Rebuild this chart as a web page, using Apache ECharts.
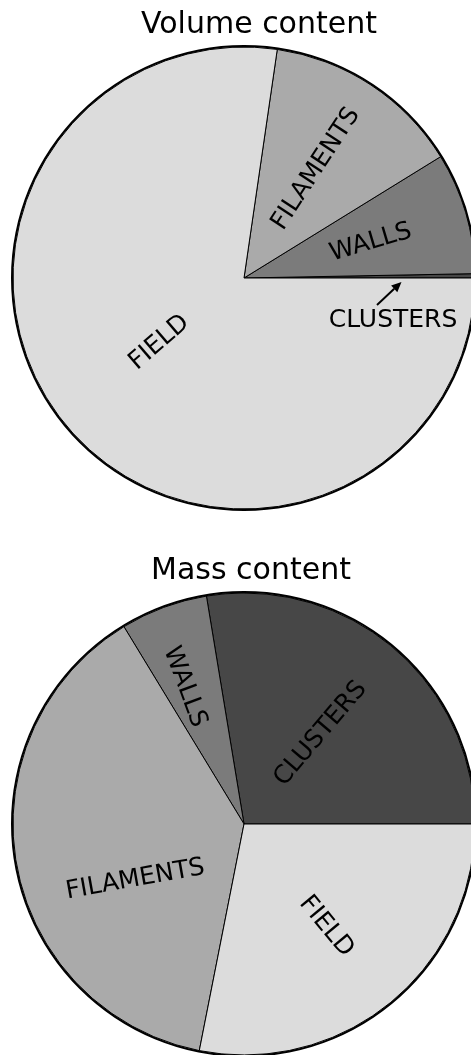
<!DOCTYPE html>
<html>
<head>
<meta charset="utf-8">
<script src="https://cdn.jsdelivr.net/npm/echarts@6/dist/echarts.min.js"></script>
<style>
  html, body { margin: 0; padding: 0; background: #fff; }
  #chart { width: 471px; height: 1055px; }
</style>
</head>
<body>
<div id="chart"></div>
<script>
// shares in percent, counter-clockwise from 3 o'clock
const categories = ['CLUSTERS', 'WALLS', 'FILAMENTS', 'FIELD'];
const volumeValues = [0.3, 8.5, 13.9, 77.3];
const massValues = [27.6, 6.1, 38.2, 28.1];
const sliceColors = ['#474747', '#7b7b7b', '#aaaaaa', '#dcdcdc'];

const font = 'DejaVu Sans';
const R = 231;

const chart = echarts.init(document.getElementById('chart'));

// rotation (deg) of a radial label for slice i
const labelAngle = (values, i) => {
  const total = values.reduce((a, b) => a + b, 0);
  let cum = 0;
  for (let k = 0; k < i; k++) cum += values[k];
  let a = (cum + values[i] / 2) / total * 360;
  if (a > 90 && a <= 270) a -= 180;
  if (a > 270) a -= 360;
  return a;
};

// nudges are screen-space pixel shifts; dx/dy of the label work in its rotated frame
const makePie = (values, center, nudges, outsideIdx) => ({
  type: 'pie',
  center: center,
  radius: [0, R],
  startAngle: 0,
  clockwise: false,
  animation: false,
  silent: true,
  avoidLabelOverlap: false,
  minAngle: 0,
  data: categories.map((name, i) => ({
    name: name,
    value: values[i],
    itemStyle: { color: sliceColors[i] }
  })),
  itemStyle: { borderColor: '#000', borderWidth: 1 },
  label: {
    show: true,
    position: 'inside',
    rotate: 'radial',
    formatter: '{b}',
    color: '#000',
    fontFamily: font,
    fontSize: 25
  },
  labelLine: { show: false },
  labelLayout: (p) => {
    if (p.dataIndex === outsideIdx) {
      return { x: 393, y: 320, rotate: 0, align: 'center', verticalAlign: 'middle' };
    }
    const n = nudges[p.dataIndex];
    const r = labelAngle(values, p.dataIndex) * Math.PI / 180;
    return {
      dx: n[0] * Math.cos(r) - n[1] * Math.sin(r),
      dy: n[0] * Math.sin(r) + n[1] * Math.cos(r)
    };
  }
});

const makeRing = (center) => ({
  type: 'pie',
  center: center,
  radius: [R, R + 2],
  silent: true,
  animation: false,
  label: { show: false },
  labelLine: { show: false },
  itemStyle: { color: '#000' },
  data: [{ value: 1, name: 'ring' }]
});

// arrow pointing at the thin CLUSTERS slice
const tail = [377, 305];
const tip = [401.5, 282];
const dx = tip[0] - tail[0], dy = tip[1] - tail[1];
const len = Math.sqrt(dx * dx + dy * dy);
const ux = dx / len, uy = dy / len;
const hb = [tip[0] - 10 * ux, tip[1] - 10 * uy];

const option = {
  backgroundColor: '#fff',
  title: [
    {
      text: 'Volume content',
      left: 254,
      top: 5,
      textAlign: 'center',
      textStyle: { fontFamily: font, fontSize: 30, fontWeight: 'normal', color: '#000' }
    },
    {
      text: 'Mass content',
      left: 246,
      top: 551,
      textAlign: 'center',
      textStyle: { fontFamily: font, fontSize: 30, fontWeight: 'normal', color: '#000' }
    }
  ],
  series: [
    makePie(volumeValues, [244, 278], [[0, 0], [13, -2], [7, -10], [5, -13]], 0),
    makeRing([244, 278]),
    makePie(massValues, [244, 824], [[0, 0], [-18, -26], [8, 35], [7, 11]], -1),
    makeRing([244, 824])
  ],
  graphic: [
    {
      type: 'line',
      shape: { x1: tail[0], y1: tail[1], x2: hb[0], y2: hb[1] },
      style: { stroke: '#000', lineWidth: 2 },
      z: 100
    },
    {
      type: 'polygon',
      shape: {
        points: [
          tip,
          [hb[0] + 4.5 * uy, hb[1] - 4.5 * ux],
          [hb[0] - 4.5 * uy, hb[1] + 4.5 * ux]
        ]
      },
      style: { fill: '#000' },
      z: 100
    }
  ]
};

chart.setOption(option);
</script>
</body>
</html>
